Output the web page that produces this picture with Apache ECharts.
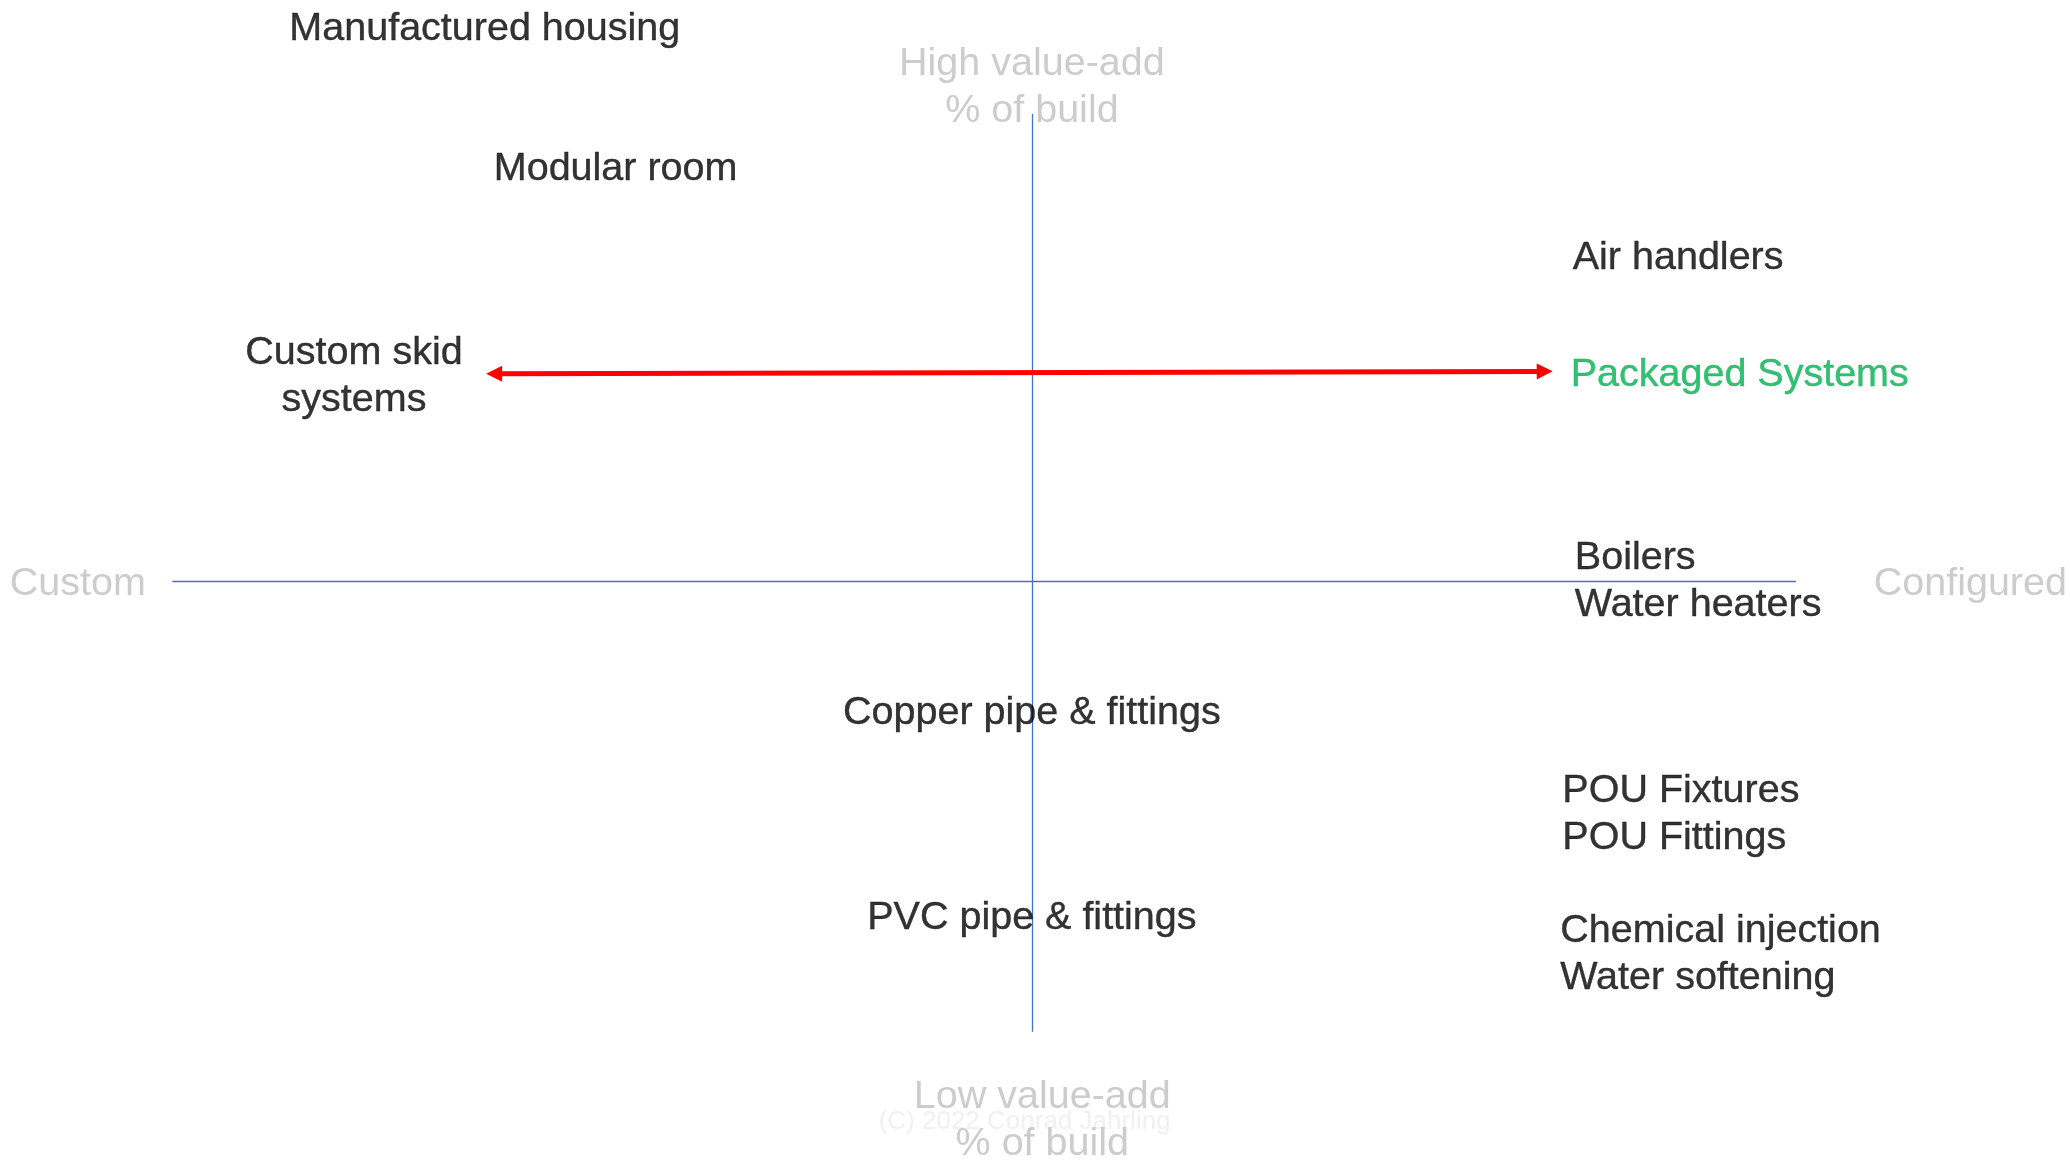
<!DOCTYPE html>
<html><head><meta charset="utf-8">
<script src="https://cdn.jsdelivr.net/npm/echarts@6/dist/echarts.min.js"></script>
<style>html,body{margin:0;padding:0;background:#fff}#c{width:2070px;height:1167px}</style>
</head><body><div id="c"></div>
<script>
// Conceptual coordinates: x = Custom(-) .. Configured(+), y = Low(-) .. High(+) value-add
const itemNames = ['Manufactured housing','Modular room','Air handlers','Packaged Systems','Custom skid\nsystems','Boilers\nWater heaters','Copper pipe & fittings','POU Fixtures\nPOU Fittings','PVC pipe & fittings','Chemical injection\nWater softening'];
const itemX = [-52.7,-40.1,52.1,51.9,-65.3,52.3,0,51.1,0,50.9];
const itemY = [119.3,89.2,70.1,45.0,44.6,0.5,-27.7,-49.7,-71.9,-79.8];
const leftAnchored = ['Air handlers','Packaged Systems','Boilers\nWater heaters','POU Fixtures\nPOU Fittings','Chemical injection\nWater softening'];
const highlighted = ['Packaged Systems'];

const axisTitleNames = ['High value-add\n% of build','Low value-add\n% of build','Custom','Configured'];
const axisTitleX = [0,1.0,-91.9,90.4];
const axisTitleY = [106.7,-115.5,0,0];

const hAxisLine = [[-82.8,0],[73.6,0]];
const vAxisLine = [[0,100.5],[0,-97.0]];
const shiftArrow = [[-51.8,44.6],[49.4,45.1]];

const credit = ['(C) 2022 Conrad Jahrling'];
const creditX = [-0.7];
const creditY = [-115.9];

const FONT = 'Liberation Sans, Arial, sans-serif';
const chart = echarts.init(document.getElementById('c'), null, {renderer:'canvas'});

const itemData = itemNames.map((n,i)=>{
  const left = leftAnchored.includes(n);
  const col = highlighted.includes(n) ? '#00b050' : '#000000';
  return {
    name:n, value:[itemX[i], itemY[i]],
    label:{
      position: left ? 'right' : 'inside',
      distance: 0,
      align: left ? 'left' : 'center',
      color: col,
      textBorderColor: col,
      textBorderWidth: 0.4
    }
  };
});
const titleData = axisTitleNames.map((n,i)=>({name:n, value:[axisTitleX[i], axisTitleY[i]]}));
const creditData = credit.map((n,i)=>({name:n, value:[creditX[i], creditY[i]]}));

chart.setOption({
  animation:false,
  backgroundColor:'#ffffff',
  grid:{left:0, right:0, top:0, bottom:5},
  xAxis:{type:'value', min:-99.4, max:100, show:false},
  yAxis:{type:'value', min:-125, max:125, show:false},
  series:[
    {
      type:'lines', coordinateSystem:'cartesian2d', silent:true, z:1,
      symbol:'none',
      lineStyle:{color:'#4472c4', width:1.3, opacity:1},
      data:[{coords:hAxisLine},{coords:vAxisLine}]
    },
    {
      type:'scatter', symbolSize:0, silent:true, z:2, clip:false,
      label:{show:true, position:'inside', offset:[0,2], formatter:'{b}', fontFamily:FONT, fontSize:26, color:'#ececec', lineHeight:31},
      data:creditData
    },
    {
      type:'scatter', symbolSize:0, silent:true, z:3, clip:false,
      label:{show:true, position:'inside', offset:[0,3], formatter:'{b}', fontFamily:FONT, fontSize:39.5, color:'#bfbfbf', lineHeight:47},
      data:titleData
    },
    {
      type:'lines', coordinateSystem:'cartesian2d', silent:true, z:4,
      symbol:['triangle','triangle'], symbolSize:16,
      lineStyle:{color:'#ff0000', width:5, opacity:1},
      data:[{coords:shiftArrow}]
    },
    {
      type:'scatter', symbolSize:0, silent:true, z:5, clip:false,
      label:{show:true, offset:[0,3], formatter:'{b}', fontFamily:FONT, fontSize:39.5, lineHeight:47},
      data:itemData
    }
  ]
});
</script></body></html>
